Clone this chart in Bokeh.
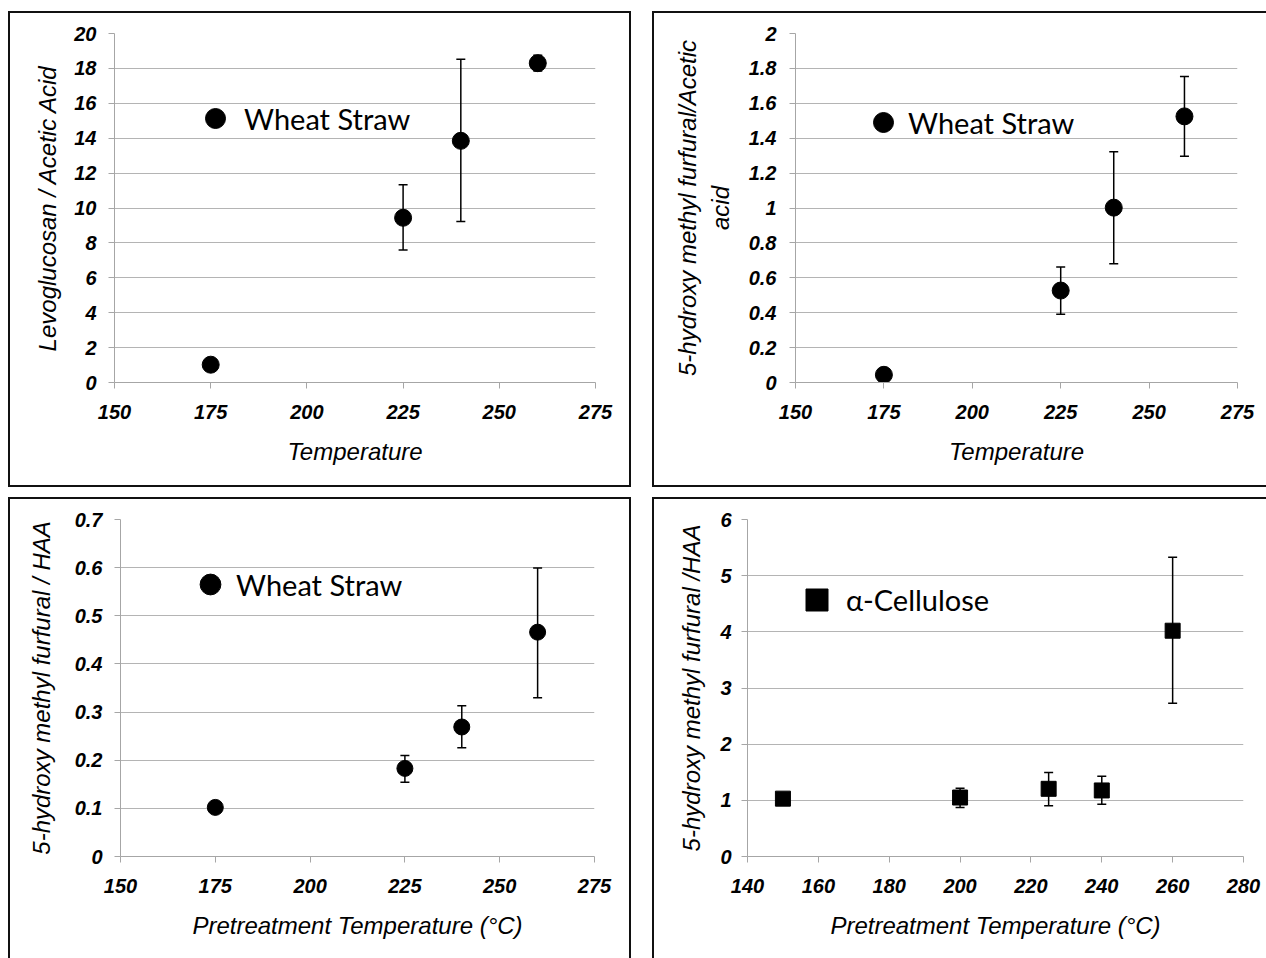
from bokeh.plotting import figure
from bokeh.models import (ColumnDataSource, Whisker, TeeHead, Range1d, FixedTicker,
                          Legend, LegendItem, CustomJSTickFormatter)
from bokeh.layouts import column, row
from bokeh.embed import file_html
from bokeh.resources import INLINE

# ---------------- data ----------------
# Panel 1: Wheat straw, levoglucosan / acetic acid
ws_temp = [175, 225, 240, 260]
levo_acetic = [1.02, 9.44, 13.85, 18.3]
levo_err_temp = [225, 240, 260]
levo_err_low = [7.60, 9.23, 17.85]
levo_err_high = [11.33, 18.53, 18.75]

# Panel 2: Wheat straw, HMF / acetic acid
hmf_acetic = [0.044, 0.527, 1.002, 1.525]
hmf_acetic_err_temp = [225, 240, 260]
hmf_acetic_err_low = [0.391, 0.681, 1.296]
hmf_acetic_err_high = [0.662, 1.322, 1.754]

# Panel 3: Wheat straw, HMF / HAA
hmf_haa_ws = [0.102, 0.183, 0.269, 0.466]
hmf_haa_ws_err_temp = [225, 240, 260]
hmf_haa_ws_err_low = [0.154, 0.226, 0.330]
hmf_haa_ws_err_high = [0.210, 0.313, 0.599]

# Panel 4: alpha-cellulose, HMF / HAA
cel_temp = [150, 200, 225, 240, 260]
hmf_haa_cel = [1.03, 1.05, 1.205, 1.176, 4.02]
cel_err_temp = [200, 225, 240, 260]
cel_err_low = [0.874, 0.903, 0.932, 2.73]
cel_err_high = [1.216, 1.494, 1.43, 5.33]

x_ticks_ws = [150, 175, 200, 225, 250, 275]
x_ticks_cel = [140, 160, 180, 200, 220, 240, 260, 280]
y_ticks_1 = [0, 2, 4, 6, 8, 10, 12, 14, 16, 18, 20]
y_ticks_2 = [0, 0.2, 0.4, 0.6, 0.8, 1, 1.2, 1.4, 1.6, 1.8, 2]
y_ticks_3 = [0, 0.1, 0.2, 0.3, 0.4, 0.5, 0.6, 0.7]
y_ticks_4 = [0, 1, 2, 3, 4, 5, 6]

AX = "#a6a6a6"
GRID = "#b4b4b4"
FONT = "Liberation Sans"


def make_panel(xs, ys, ex, elo, ehi, xr, yr, xticks, yticks, xlabel, ylabel,
               leg_label, marker, msize, leg_glyph, leg_loc, leg_standoff,
               width, height, mb, margin, ytick_standoff, ylabel_standoff,
               decimal, border_css):
    p = figure(width=width, height=height, output_backend="svg", toolbar_location=None,
               x_range=Range1d(*xr), y_range=Range1d(*yr),
               min_border_left=mb[0], min_border_right=mb[1],
               min_border_top=mb[2], min_border_bottom=mb[3],
               margin=margin, styles=border_css)
    p.border_fill_alpha = 0
    p.outline_line_color = None
    p.xgrid.visible = False
    p.ygrid.grid_line_color = GRID
    p.ygrid.grid_line_width = 1

    xa = p.xaxis[0]
    ya = p.yaxis[0]
    xa.ticker = FixedTicker(ticks=xticks)
    ya.ticker = FixedTicker(ticks=yticks)
    if decimal:
        ya.formatter = CustomJSTickFormatter(code="return String(Math.round(tick*10)/10);")
    for a in (xa, ya):
        a.axis_line_color = AX
        a.axis_line_width = 1
        a.major_tick_line_color = AX
        a.major_tick_out = 6
        a.major_tick_in = 0
        a.minor_tick_line_color = None
        a.major_label_text_font = FONT
        a.major_label_text_font_style = "bold italic"
        a.major_label_text_font_size = "20px"
        a.major_label_text_color = "black"
        a.axis_label_text_font = FONT
        a.axis_label_text_font_style = "italic"
        a.axis_label_text_font_size = "24px"
        a.axis_label_text_color = "black"
    xa.axis_label = xlabel
    ya.axis_label = ylabel
    xa.major_label_standoff = 16
    xa.axis_label_standoff = 16
    ya.major_label_standoff = ytick_standoff
    ya.axis_label_standoff = ylabel_standoff

    src = ColumnDataSource(dict(x=ex, lo=elo, hi=ehi))
    w = Whisker(source=src, base="x", lower="lo", upper="hi", dimension="height",
                line_color="black", line_width=1.5,
                upper_head=TeeHead(size=9, line_color="black", line_width=1.5),
                lower_head=TeeHead(size=9, line_color="black", line_width=1.5))
    p.add_layout(w)

    r = p.scatter(xs, ys, marker=marker, size=msize, color="black")

    leg = Legend(items=[LegendItem(label=leg_label, renderers=[r])],
                 location=leg_loc, glyph_width=leg_glyph, glyph_height=leg_glyph,
                 label_standoff=leg_standoff, padding=0, margin=0, spacing=0,
                 border_line_color=None, background_fill_alpha=0,
                 label_text_font="Lato", label_text_font_size="29px",
                 label_text_color="black")
    p.add_layout(leg)
    return p


B = "2px solid #111"
full = {"border": B, "box-sizing": "border-box"}
no_right = {"border-top": B, "border-bottom": B, "border-left": B, "box-sizing": "border-box"}
no_bottom = {"border-top": B, "border-right": B, "border-left": B, "box-sizing": "border-box"}
no_rb = {"border-top": B, "border-left": B, "box-sizing": "border-box"}

p1 = make_panel(ws_temp, levo_acetic, levo_err_temp, levo_err_low, levo_err_high,
                (150, 275), (0, 20), x_ticks_ws, y_ticks_1,
                "Temperature", "Levoglucosan / Acetic Acid",
                "Wheat Straw", "circle", 17, 50, (76, 239), 4,
                623, 476, (104, 38, 20, 107), (11, 0, 0, 8), 12, 10, False, full)

p2 = make_panel(ws_temp, hmf_acetic, hmf_acetic_err_temp, hmf_acetic_err_low, hmf_acetic_err_high,
                (150, 275), (0, 2), x_ticks_ws, y_ticks_2,
                "Temperature", "5-hydroxy methyl furfural/Acetic\nacid",
                "Wheat Straw", "circle", 17, 50, (63, 235), 0,
                614, 476, (141, 31, 20, 107), (11, 0, 0, 21), 13, 12, True, no_right)

p3 = make_panel(ws_temp, hmf_haa_ws, hmf_haa_ws_err_temp, hmf_haa_ws_err_low, hmf_haa_ws_err_high,
                (150, 275), (0, 0.7), x_ticks_ws, y_ticks_3,
                "Pretreatment Temperature (°C)", "5-hydroxy methyl furfural / HAA",
                "Wheat Straw", "circle", 16, 52, (64, 246), 0,
                623, 461, (110, 39, 20, 103), (10, 0, 0, 8), 12, 17, True, no_bottom)

p4 = make_panel(cel_temp, hmf_haa_cel, cel_err_temp, cel_err_low, cel_err_high,
                (140, 280), (0, 6), x_ticks_cel, y_ticks_4,
                "Pretreatment Temperature (°C)", "5-hydroxy methyl furfural /HAA",
                "α-Cellulose", "square", 15, 55, (42, 229), 2,
                614, 461, (93, 25, 12, 104), (10, 0, 0, 21), 10, 12, False, no_rb)

layout = column(row(p1, p2), row(p3, p4))

open("out.html", "w").write(file_html(layout, INLINE))
